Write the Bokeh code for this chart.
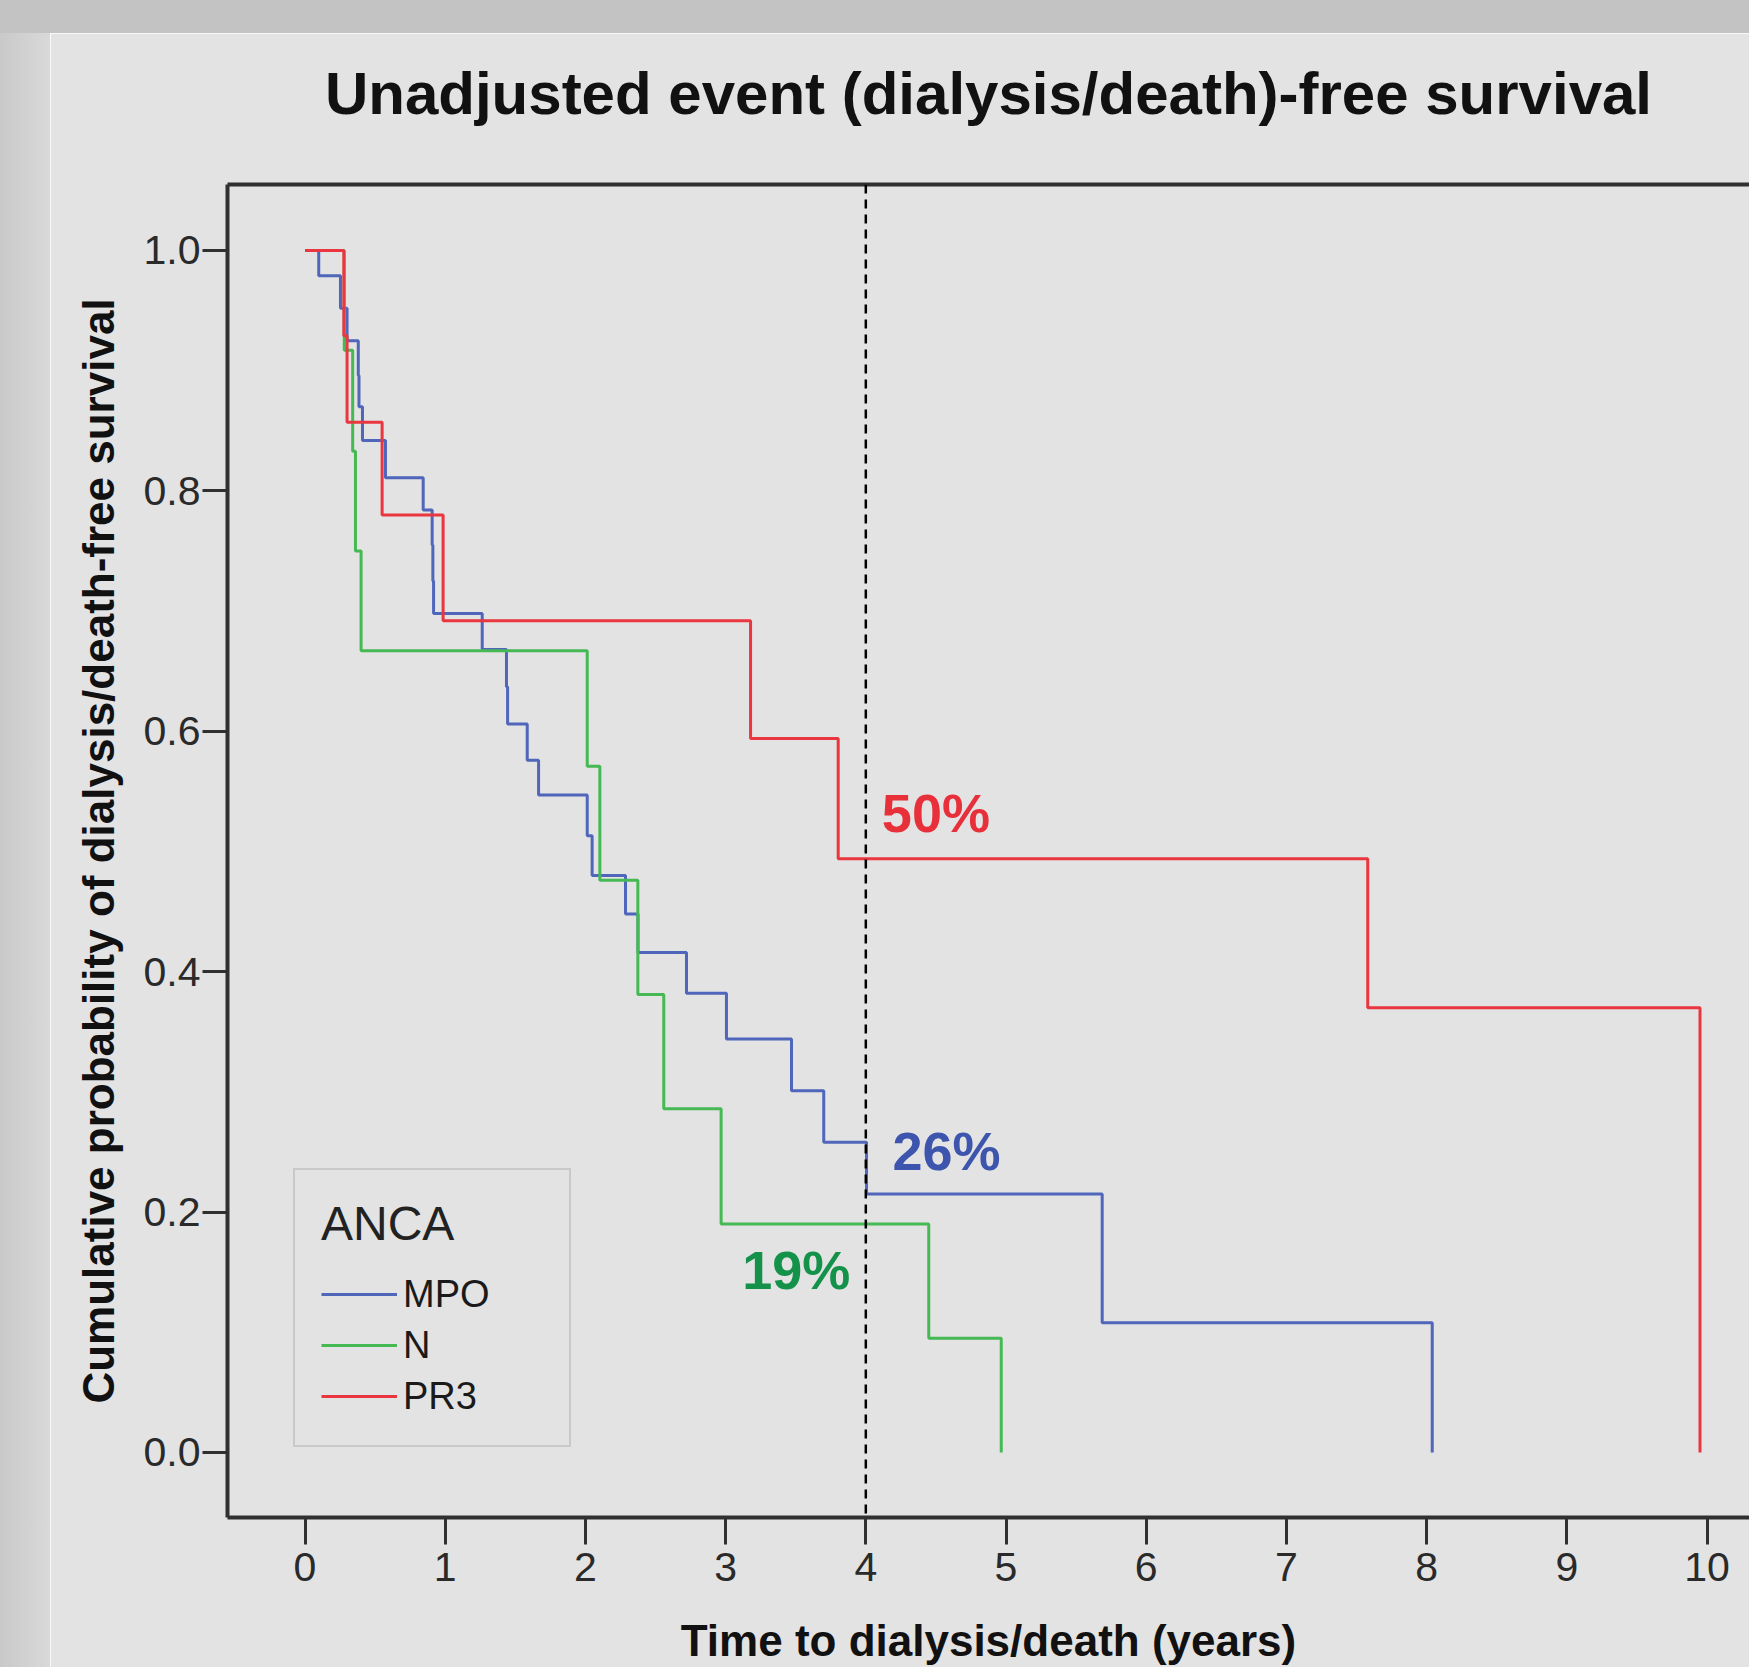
from bokeh.plotting import figure
from bokeh.models import (Range1d, FixedTicker, PrintfTickFormatter, LinearAxis, Span,
                          Label, Legend, LegendItem, Spacer)
from bokeh.layouts import column, row
from bokeh.embed import file_html
from bokeh.resources import INLINE

# ---------------- data ----------------
title_text = "Unadjusted event (dialysis/death)-free survival"
groups = ["MPO", "N", "PR3"]

mpo_time = [0.0, 0.098, 0.253, 0.300, 0.380, 0.385, 0.410, 0.574, 0.843, 0.907, 0.912, 0.917,
            1.264, 1.437, 1.445, 1.585, 1.666, 2.013, 2.048, 2.286, 2.375, 2.721, 3.006,
            3.470, 3.700, 4.005, 5.686, 8.040]
mpo_surv = [1.0, 0.979, 0.952, 0.925, 0.896, 0.870, 0.842, 0.811, 0.784, 0.755, 0.725, 0.698,
            0.668, 0.637, 0.606, 0.576, 0.547, 0.513, 0.480, 0.448, 0.416, 0.382, 0.344,
            0.301, 0.258, 0.215, 0.108, 0.0]

n_time = [0.0, 0.280, 0.340, 0.360, 0.400, 2.013, 2.103, 2.374, 2.559, 2.968, 4.449, 4.966]
n_surv = [1.0, 0.917, 0.833, 0.750, 0.667, 0.571, 0.476, 0.381, 0.286, 0.190, 0.095, 0.0]

pr3_time = [0.0, 0.277, 0.300, 0.550, 0.985, 3.178, 3.803, 7.580, 9.950]
pr3_surv = [1.0, 0.929, 0.857, 0.780, 0.692, 0.594, 0.494, 0.370, 0.0]

landmark_year = 4
pct_labels = ["26%", "19%", "50%"]   # MPO, N, PR3 at the landmark

x_ticks = [0, 1, 2, 3, 4, 5, 6, 7, 8, 9, 10]
y_ticks = [0.0, 0.2, 0.4, 0.6, 0.8, 1.0]

# ---------------- style ----------------
PANEL = "#e3e3e3"
AXIS = "#303030"
FONT = "Liberation Sans"
LINE_COLORS = ["#4f66bb", "#45b953", "#e9363f"]
TEXT_COLORS = ["#3d55ad", "#14924a", "#e8303a"]

p = figure(width=1699, height=1634,
           x_range=Range1d(-0.5528, 10.303), y_range=Range1d(-0.0541, 1.0549),
           output_backend="svg", toolbar_location=None,
           min_border_left=177, min_border_right=0, min_border_top=151, min_border_bottom=150,
           background_fill_color=PANEL, border_fill_color=PANEL, outline_line_color=None)

p.xgrid.visible = False
p.ygrid.visible = False

# x axis
xa = p.xaxis[0]
xa.ticker = FixedTicker(ticks=x_ticks)
xa.axis_label = "Time to dialysis/death (years)"
xa.axis_label_text_font = FONT
xa.axis_label_text_font_size = "44px"
xa.axis_label_text_font_style = "bold"
xa.axis_label_text_color = "#111111"
xa.axis_label_standoff = 32
xa.major_label_text_font = FONT
xa.major_label_text_font_size = "41px"
xa.major_label_text_color = "#2a2a2a"
xa.major_label_standoff = 8
xa.major_tick_out = 27
xa.major_tick_in = 0
xa.minor_tick_out = 0
xa.minor_tick_in = 0
xa.major_tick_line_width = 3
xa.major_tick_line_color = AXIS
xa.axis_line_width = 4
xa.axis_line_color = AXIS

# y axis
ya = p.yaxis[0]
ya.ticker = FixedTicker(ticks=y_ticks)
ya.formatter = PrintfTickFormatter(format="%.1f")
ya.axis_label = "Cumulative probability of dialysis/death-free survival"
ya.axis_label_text_font = FONT
ya.axis_label_text_font_size = "44px"
ya.axis_label_text_font_style = "bold"
ya.axis_label_text_color = "#111111"
ya.axis_label_standoff = 18
ya.major_label_text_font = FONT
ya.major_label_text_font_size = "41px"
ya.major_label_text_color = "#2a2a2a"
ya.major_label_standoff = 2
ya.major_tick_out = 25
ya.major_tick_in = 0
ya.minor_tick_out = 0
ya.minor_tick_in = 0
ya.major_tick_line_width = 3
ya.major_tick_line_color = AXIS
ya.axis_line_width = 4
ya.axis_line_color = AXIS

# top frame line; its axis label carries the chart title
top_axis = LinearAxis(ticker=FixedTicker(ticks=[]), major_label_text_font_size="0px",
                      major_tick_out=0, major_tick_in=0, minor_tick_out=0, minor_tick_in=0,
                      axis_line_width=4, axis_line_color=AXIS,
                      axis_label=title_text, axis_label_standoff=58,
                      axis_label_text_font=FONT, axis_label_text_font_size="60px",
                      axis_label_text_font_style="bold", axis_label_text_color="#111111")
p.add_layout(top_axis, "above")

# survival curves
series = [(mpo_time, mpo_surv), (n_time, n_surv), (pr3_time, pr3_surv)]
renderers = []
for (t, s), col in zip(series, LINE_COLORS):
    r = p.step(t, s, mode="after", line_color=col, line_width=3)
    renderers.append(r)

# landmark line
p.add_layout(Span(location=landmark_year, dimension="height", line_color="black",
                  line_width=2.5, line_dash="9 6"))

# percentage labels
label_pos = [(4.575, 0.251), (3.504, 0.152), (4.50, 0.532)]
for txt, (lx, ly), col in zip(pct_labels, label_pos, TEXT_COLORS):
    p.add_layout(Label(x=lx, y=ly, text=txt, text_align="center", text_baseline="middle",
                       text_font=FONT, text_font_size="54px", text_font_style="bold",
                       text_color=col))

legend = Legend(items=[LegendItem(label=g, renderers=[r]) for g, r in zip(groups, renderers)],
                location=(66, 70), title="ANCA",
                title_text_font=FONT, title_text_font_size="48px", title_text_font_style="normal",
                title_text_color="#222222", title_standoff=20,
                label_text_font=FONT, label_text_font_size="38px", label_text_color="#1a1a1a",
                glyph_width=76, glyph_height=46, label_height=46, label_standoff=6,
                label_width=140, spacing=5, padding=26, margin=0,
                border_line_color="#b0b0b0", border_line_width=2,
                background_fill_color=PANEL, background_fill_alpha=1.0)
p.add_layout(legend, "center")

top = Spacer(width=1749, height=33, styles={"background-color": "#c3c3c3"})
left = Spacer(width=50, height=1634,
              styles={"background": "linear-gradient(to right, #c9c9c9, #d9d9d9)"})
layout = column(top, row(left, p))

open("out.html", "w").write(file_html(layout, INLINE))
